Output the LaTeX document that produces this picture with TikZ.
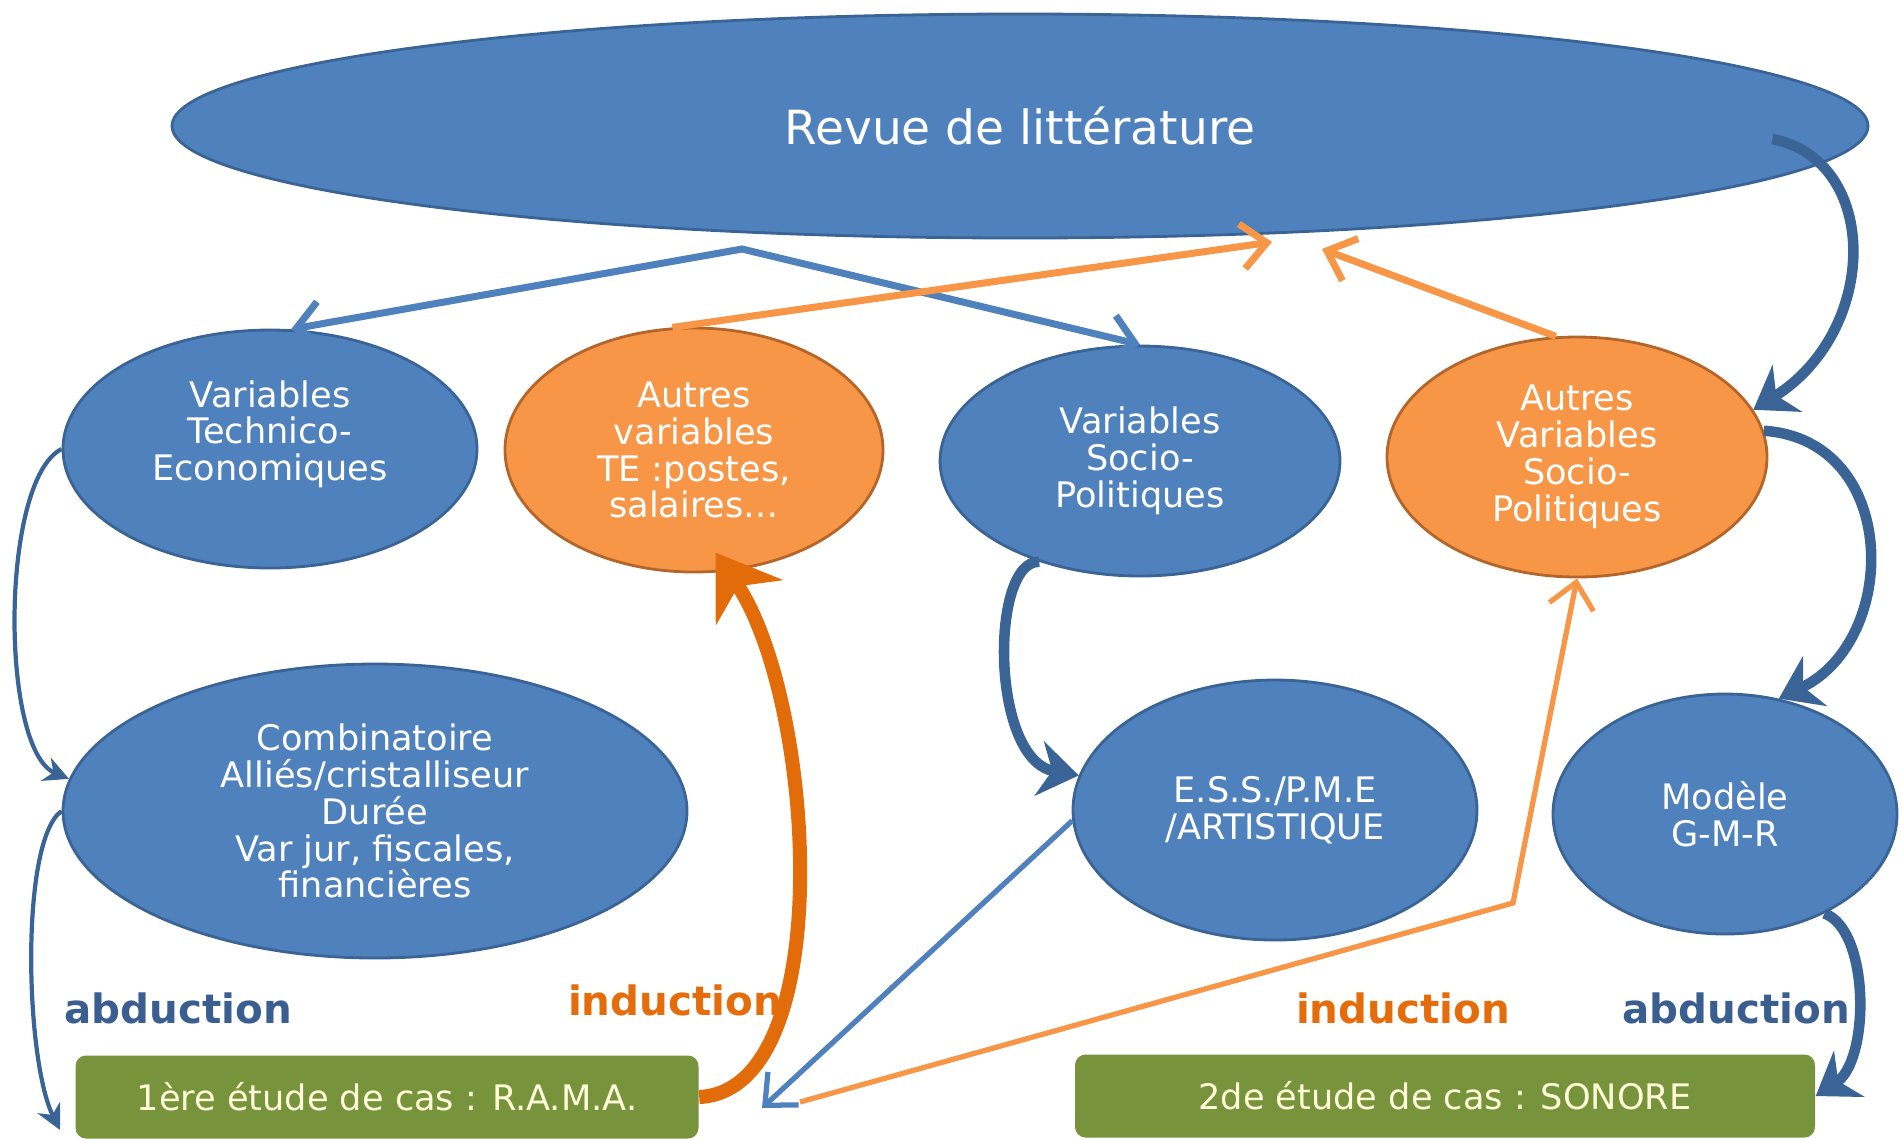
\documentclass[tikz,border=0pt]{standalone}
\usepackage{fontspec}
\setmainfont{DejaVu Sans}
\usepackage{xcolor}
\usepackage{tikz}
\usetikzlibrary{positioning, arrows.meta, shapes.geometric}

\definecolor{varblue}{HTML}{4F81BD}
\definecolor{varblueedge}{HTML}{3A6495}
\definecolor{varorange}{HTML}{F79646}
\definecolor{varorangeedge}{HTML}{B4662A}
\definecolor{indarrow}{HTML}{E26B0A}
\definecolor{casegreen}{HTML}{77933C}
\definecolor{abdtext}{HTML}{3B5E91}
\definecolor{indtext}{HTML}{E46C0A}

\begin{document}
\begin{tikzpicture}[
    x=0.1mm, y=-0.1mm,
    every node/.style={align=center, font=\fontsize{10}{10.5}\selectfont, text=white},
    bluevar/.style={ellipse, draw=varblueedge, fill=varblue, line width=0.8pt, inner sep=0pt},
    orangevar/.style={ellipse, draw=varorangeedge, fill=varorange, line width=0.8pt, inner sep=0pt},
    casebox/.style={rectangle, rounded corners=3pt, fill=casegreen, text=white!85!yellow, minimum height=8.3mm},
    method/.style={font=\fontsize{11.5}{13}\selectfont\bfseries},
    >={Straight Barb[length=2.5mm,width=4.5mm]},
    bluearrow/.style={draw=varblue, line width=2pt},
    orangearrow/.style={draw=varorange, line width=2pt},
    bluecurve/.style={draw=varblueedge, line width=3pt, -{Stealth[length=4mm,width=5.5mm]}},
    thincurve/.style={draw=varblueedge, line width=1.2pt, -{Stealth[length=2.5mm,width=2.5mm]}},
    indcurve/.style={draw=indarrow, line width=4pt, -{Stealth[length=6mm,width=8mm]}}
]
\useasboundingbox (0,0) rectangle (1901,1138);

\node[bluevar, minimum width=169.6mm, minimum height=22.4mm, font=\fontsize{13.4}{15}\selectfont] (revue) at (1020,126) {Revue de littérature};

\node[bluevar, minimum width=41.4mm, minimum height=23.8mm] (vartech) at (270,449) {Variables\\Technico-\\Economiques\\~};
\node[orangevar, minimum width=37.8mm, minimum height=24.4mm] (autreste) at (694,450) {Autres\\variables\\TE :postes,\\salaires…};
\node[bluevar, minimum width=40mm, minimum height=23mm] (varsocio) at (1140,461) {Variables\\Socio-\\Politiques};
\node[orangevar, minimum width=38mm, minimum height=24mm] (autressocio) at (1577,457) {Autres\\Variables\\Socio-\\Politiques};

\node[bluevar, minimum width=62.4mm, minimum height=29.4mm] (combi) at (375,811) {Combinatoire\\Alliés/cristalliseur\\Durée\\Var jur, fiscales,\\financières};
\node[bluevar, minimum width=40.4mm, minimum height=26mm] (ess) at (1275,810) {E.S.S./P.M.E\\/ARTISTIQUE};
\node[bluevar, minimum width=34.4mm, minimum height=24mm] (gmr) at (1725,814) {Modèle\\G-M-R};

\node[casebox, minimum width=62.3mm] (rama) at (387,1097) {1ère étude de cas : R.A.M.A.};
\node[casebox, minimum width=74mm] (sonore) at (1445,1096) {2de étude de cas : SONORE};

\node[method, text=abdtext] (abd1) at (178,1008) {abduction};
\node[method, text=indtext] (ind1) at (675,1000) {induction};
\node[method, text=indtext] (ind2) at (1403,1008) {induction};
\node[method, text=abdtext] (abd2) at (1736,1008) {abduction};

% from the review down to the variables, and back up
\coordinate (split) at (742,249);
\coordinate (litA) at (1272,242);
\coordinate (litB) at (1322,249);
\draw[bluearrow, <->] (vartech.80) -- (split) -- (varsocio.north);
\draw[orangearrow, ->] (autreste.100) -- (litA);
\draw[orangearrow, ->] (autressocio.100) -- (litB);

% right side loop
\draw[bluecurve] ([xshift=-9.7mm,yshift=-1.3mm]revue.east) .. controls (1880,160) and (1880,330) .. (autressocio.15);
\draw[bluecurve] (autressocio.8) .. controls (1900,440) and (1900,640) .. (gmr.65);
\draw[bluecurve] (gmr.-45) .. controls (1870,930) and (1870,1060) .. (sonore.east);
\draw[bluecurve] (varsocio.225) .. controls (990,560) and (990,760) .. (ess.170);

% left side
\coordinate (abdleft) at (60,1130);
\draw[thincurve] (vartech.west) .. controls (0,480) and (0,750) .. (combi.174);
\draw[thincurve] (combi.west) .. controls (20,840) and (25,1060) .. (abdleft);
\draw[indcurve] (rama.east) .. controls (840,1090) and (815,700) .. ([yshift=2mm]autreste.-80);

% cases feeding back
\coordinate (ramain) at (762,1108);
\coordinate (ramaout) at (800,1102);
\coordinate (bend) at (1513,903);
\draw[bluearrow, line width=1.5pt, ->] (ess.183) -- (ramain);
\draw[orangearrow, line width=1.5pt, ->] (ramaout) -- (bend) -- (autressocio.south);
\end{tikzpicture}
\end{document}
